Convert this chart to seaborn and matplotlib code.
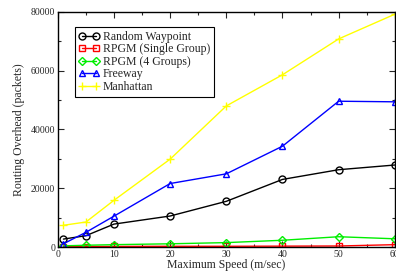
import matplotlib
matplotlib.use("Agg")
import matplotlib.pyplot as plt
import seaborn as sns
import pandas as pd
from matplotlib.ticker import MultipleLocator

speeds = [1, 5, 10, 20, 30, 40, 50, 60]
random_waypoint = [2700, 3850, 7800, 10550, 15550, 23000, 26300, 27900]
rpgm_single = [150, 150, 200, 250, 250, 300, 350, 800]
rpgm_4groups = [400, 600, 800, 1100, 1500, 2300, 3500, 2800]
freeway = [1100, 5000, 10500, 21600, 24900, 34300, 49600, 49400]
manhattan = [7400, 8500, 15900, 29900, 48000, 58600, 70800, 79200]

series = [
    ("Random Waypoint", random_waypoint, "black", "o"),
    ("RPGM (Single Group)", rpgm_single, "red", "s"),
    ("RPGM (4 Groups)", rpgm_4groups, "#00ee00", "D"),
    ("Freeway", freeway, "blue", "^"),
    ("Manhattan", manhattan, "yellow", "+"),
]

sns.set_style("ticks")
plt.rcParams["font.family"] = ["Liberation Serif", "DejaVu Serif"]

fig = plt.figure(figsize=(3.96, 2.76), dpi=100)
ax = fig.add_axes([0.146, 0.105, 0.851, 0.852])

for name, vals, col, mk in series:
    df = pd.DataFrame({"speed": speeds, "overhead": vals})
    ms = 6 if mk == "+" else (4 if mk == "D" else 5)
    sns.lineplot(data=df, x="speed", y="overhead", ax=ax, color=col, marker=mk,
                 markersize=ms, markerfacecolor="none", markeredgecolor=col,
                 markeredgewidth=1.0, linewidth=1.0, label=name)

ax.set_xlim(0, 60)
ax.set_ylim(0, 80000)
ax.xaxis.set_major_locator(MultipleLocator(10))
ax.xaxis.set_minor_locator(MultipleLocator(5))
ax.yaxis.set_major_locator(MultipleLocator(20000))
ax.yaxis.set_minor_locator(MultipleLocator(10000))
ax.tick_params(which="both", direction="in", top=True, right=True, labelsize=7, pad=2)
ax.tick_params(which="major", length=4, width=0.8)
ax.tick_params(which="minor", length=2, width=0.8)
for s in ax.spines.values():
    s.set_linewidth(1.0)
    s.set_color("black")

ax.set_xlabel("Maximum Speed (m/sec)", fontsize=8.5, labelpad=0)
ax.set_ylabel("Routing Overhead (packets)", fontsize=8.5, labelpad=4)

leg = ax.legend(loc="upper left", bbox_to_anchor=(0.05, 0.935), fontsize=8.5,
                frameon=True, fancybox=False, edgecolor="black", framealpha=1,
                numpoints=2, handlelength=1.8, handletextpad=0.3,
                labelspacing=0.05, borderpad=0.3, borderaxespad=0)
leg.get_frame().set_linewidth(0.8)

fig.savefig("out.png", dpi=100)
